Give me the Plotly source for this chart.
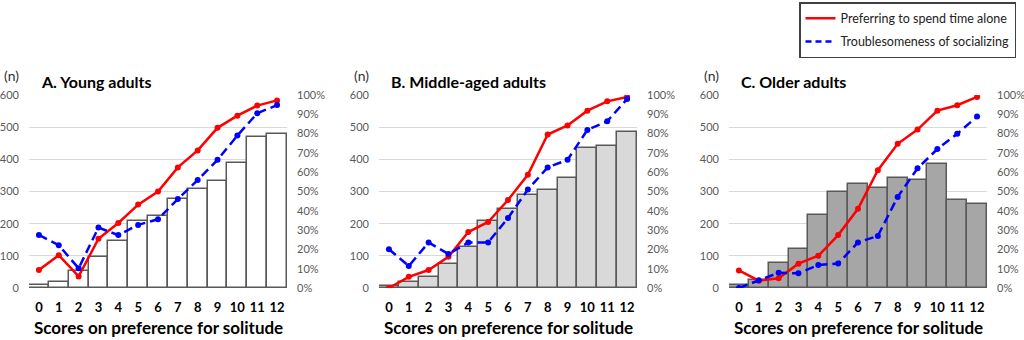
import plotly.graph_objects as go

scores = list(range(13))
score_labels = [str(s) for s in scores]

# Panel A: Young adults
young_n = [10, 20, 52, 95, 145, 209, 224, 276, 307, 334, 389, 471, 479]
young_alone = [9.3, 17, 6, 25.5, 33.7, 43.2, 50, 62.5, 71.3, 83, 89.3, 94.5, 97.2]
young_trouble = [27.5, 22.2, 10.2, 31.3, 27.4, 32.7, 35.6, 46.1, 55.9, 66.4, 79, 90.5, 94.8]

# Panel B: Middle-aged adults
middle_n = [5, 20, 35, 75, 129, 208, 245, 289, 304, 343, 434, 441, 485]
middle_alone = [0, 5.8, 9.3, 16.2, 29, 34.2, 45.6, 58.7, 79.5, 84.2, 91.9, 96.7, 99]
middle_trouble = [20.1, 11.4, 23.6, 17.6, 23.6, 23.6, 36.3, 51, 62.5, 66.4, 81.9, 86.4, 97.9]

# Panel C: Older adults
older_n = [10, 26, 78, 120, 227, 298, 324, 310, 342, 336, 386, 275, 262]
older_alone = [9.1, 3.8, 5, 12.6, 16.7, 27.4, 41, 61, 74.7, 82.1, 91.9, 94.7, 99]
older_trouble = [0, 4, 7.9, 7.6, 11.9, 12.7, 23.6, 27, 47.2, 62, 72, 79.9, 88.8]

titles = ["A. Young adults", "B. Middle-aged adults", "C. Older adults"]
bar_colors = ["#ffffff", "#d9d9d9", "#a6a6a6"]
series_alone_name = "Preferring to spend time alone"
series_trouble_name = "Troublesomeness of socializing"
x_title = "Scores on preference for solitude"
left_ticks = [0, 100, 200, 300, 400, 500, 600]
right_ticks = [0, 10, 20, 30, 40, 50, 60, 70, 80, 90, 100]
right_labels = [f"{v}%" for v in right_ticks]

panels = [
    (young_n, young_alone, young_trouble),
    (middle_n, middle_alone, middle_trouble),
    (older_n, older_alone, older_trouble),
]

W, H = 1024, 340
plot_lefts = [29, 379, 729]
plot_w = 258
y_top, y_bot = 95, 288
FONT = "Lato"
GRAY = "#595959"
RED = "#ff0000"
BLUE = "#0000ff"
DASH = "9px,5px"

fig = go.Figure()
layout = dict(
    width=W, height=H, margin=dict(l=0, r=0, t=0, b=0, autoexpand=False),
    paper_bgcolor="white", plot_bgcolor="white",
    bargap=0, showlegend=True,
    font=dict(family=FONT, color="black"),
)

annotations = []
for i, (n, alone, trouble) in enumerate(panels):
    xs = "" if i == 0 else str(i + 1)
    yl = "" if i == 0 else str(2 * i + 1)
    yr = str(2 * i + 2)
    xref = "x" + xs
    ylref = "y" + yl
    yrref = "y" + yr
    fig.add_trace(go.Bar(
        x=scores, y=n, xaxis=xref, yaxis=ylref, showlegend=False,
        marker=dict(color=bar_colors[i], line=dict(color=GRAY, width=1.5)),
    ))
    fig.add_trace(go.Scatter(
        x=scores, y=alone, xaxis=xref, yaxis=yrref, mode="lines+markers",
        name=series_alone_name, showlegend=False,
        line=dict(color=RED, width=2.5), marker=dict(size=6, color=RED),
    ))
    fig.add_trace(go.Scatter(
        x=scores, y=trouble, xaxis=xref, yaxis=yrref, mode="lines+markers",
        name=series_trouble_name, showlegend=False,
        line=dict(color=BLUE, width=2.5, dash=DASH), marker=dict(size=6, color=BLUE),
    ))
    x0 = plot_lefts[i] / W
    x1 = (plot_lefts[i] + plot_w) / W
    ydom = [1 - y_bot / H, 1 - y_top / H]
    layout["xaxis" + xs] = dict(
        domain=[x0, x1], anchor=ylref, range=[-0.5, 12.5], automargin=False,
        tickvals=scores, ticktext=score_labels, showgrid=False, zeroline=False,
        showline=False, ticks="", ticklabelstandoff=10,
        tickfont=dict(family=FONT, size=13, color="black", weight="bold"),
    )
    layout["yaxis" + yl] = dict(
        domain=ydom, anchor=xref, range=[0, 600], tickvals=left_ticks, automargin=False,
        showgrid=True, gridcolor="#d9d9d9", gridwidth=1, zeroline=False,
        showline=False, ticks="", ticklabelstandoff=9,
        tickfont=dict(family=FONT, size=11, color=GRAY),
    )
    layout["yaxis" + yr] = dict(
        domain=ydom, anchor=xref, overlaying=ylref, side="right", range=[0, 100],
        tickvals=right_ticks, ticktext=right_labels, showgrid=False, zeroline=False,
        showline=False, ticks="", ticklabelstandoff=9, automargin=False,
        tickfont=dict(family=FONT, size=11, color=GRAY),
    )
    annotations.append(dict(
        text="(n)", xref="paper", yref="paper", x=(plot_lefts[i] - 27) / W, y=1 - 75 / H,
        xanchor="left", yanchor="middle", showarrow=False,
        font=dict(family=FONT, size=14, color="#333333"),
    ))
    annotations.append(dict(
        text="<b>" + titles[i] + "</b>", xref="paper", yref="paper",
        x=(plot_lefts[i] + 10) / W, y=1 - 81 / H,
        xanchor="left", yanchor="middle", showarrow=False,
        font=dict(family=FONT, size=16, color="black"),
    ))
    annotations.append(dict(
        text="<b>" + x_title + "</b>", xref="paper", yref="paper",
        x=(plot_lefts[i] + plot_w / 2) / W, y=1 - 327 / H,
        xanchor="center", yanchor="middle", showarrow=False,
        font=dict(family=FONT, size=17, color="black"),
    ))

# legend-only entries (line samples without markers, as in the reference)
fig.add_trace(go.Scatter(
    x=[None], y=[None], mode="lines", name=series_alone_name, legendgroup="a",
    line=dict(color=RED, width=2.5),
))
fig.add_trace(go.Scatter(
    x=[None], y=[None], mode="lines", name=series_trouble_name, legendgroup="b",
    line=dict(color=BLUE, width=2.5, dash="6px,4px"),
))

layout["annotations"] = annotations
layout["legend"] = dict(
    x=799 / W, y=1 - 2 / H, xanchor="left", yanchor="top",
    bordercolor="#404040", borderwidth=1.5, bgcolor="white",
    font=dict(family=FONT, size=12.5, color="#222222"),
    traceorder="grouped", tracegroupgap=4, itemwidth=30,
)
fig.update_layout(**layout)
fig.write_html("out.html")
